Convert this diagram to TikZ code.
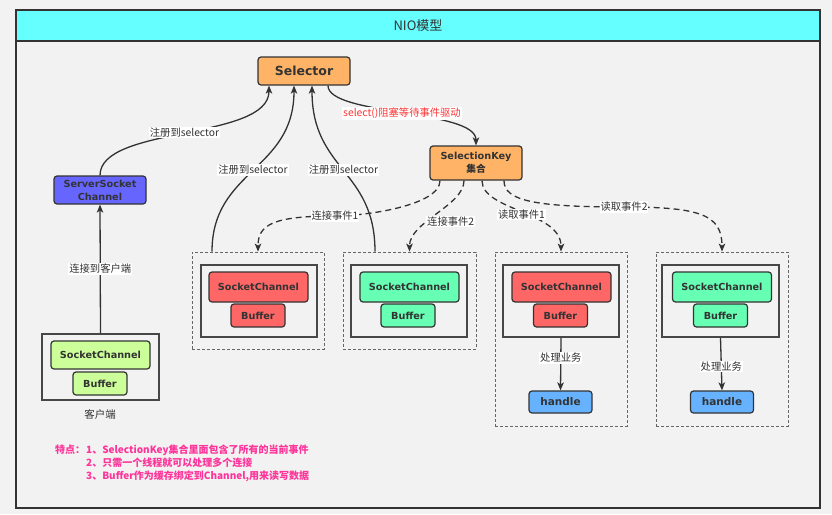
\documentclass[tikz,border=0pt]{standalone}
\usepackage{fontspec}
\setmainfont{Noto Sans CJK SC}
\newfontfamily\lat{DejaVu Sans}
\usetikzlibrary{arrows.meta}
\definecolor{ink}{HTML}{333333}
\definecolor{bg}{HTML}{F2F2F2}
\definecolor{cyanbar}{HTML}{66FFFF}
\definecolor{orangef}{HTML}{FFB366}
\definecolor{bluef}{HTML}{6666FF}
\definecolor{redf}{HTML}{FF6666}
\definecolor{greenf}{HTML}{66FFB3}
\definecolor{lgreenf}{HTML}{CCFF99}
\definecolor{handlef}{HTML}{66B2FF}
\definecolor{redtxt}{HTML}{FF3333}
\definecolor{pinktxt}{HTML}{FF3399}
\definecolor{dashgray}{HTML}{666666}
\tikzset{
  box/.style={draw=ink, line width=1.2pt, rounded corners=3pt, inner sep=0pt, text=ink, align=center},
  bl/.style={font={\lat\bfseries\fontsize{9.7}{12}\selectfont}},
  scbox/.style={box, bl, minimum width=99pt, minimum height=30pt},
  bufbox/.style={box, bl, minimum width=54pt, minimum height=23pt},
  hbox/.style={box, font={\lat\bfseries\fontsize{10.5}{12}\selectfont}, fill=handlef, minimum width=63pt, minimum height=22pt},
  inner/.style={draw=ink!90, line width=1.5pt, fill=bg, inner sep=0pt},
  outer/.style={draw=dashgray, line width=0.8pt, dash pattern=on 3pt off 2pt, inner sep=0pt},
  conn/.style={draw=ink, line width=1.3pt, -{Stealth[length=8pt,width=6.5pt,inset=2pt]}},
  dconn/.style={conn, dash pattern=on 6pt off 4pt},
  lbl/.style={fill=white, inner sep=1pt, text=ink, font=\fontsize{10.3}{12}\selectfont},
}
\begin{document}
\begin{tikzpicture}[x=1pt,y=-1pt]
\useasboundingbox (0,0) rectangle (832,514);
\fill[bg] (0,0) rectangle (832,514);
% frame and title
\draw[ink, line width=1.3pt] (16,10) rectangle (820,508);
\node[draw=ink, line width=1.3pt, fill=cyanbar, minimum width=804pt, minimum height=31pt, inner sep=0pt, text=ink, font=\fontsize{13}{15}\selectfont] (title) at (418,25.5) {NIO模型};

% main nodes
\node[box, fill=orangef, minimum width=92pt, minimum height=28pt, font={\lat\bfseries\fontsize{12.5}{14}\selectfont}] (sel) at (304,71) {Selector};
\node[box, fill=bluef, minimum width=92pt, minimum height=28pt, font={\lat\bfseries\fontsize{9.7}{13}\selectfont}] (ssc) at (100,190) {ServerSocket\\Channel};
\node[box, fill=orangef, minimum width=92pt, minimum height=34pt, font={\bfseries\fontsize{9.7}{12.5}\selectfont}] (sk) at (476,163) {{\lat SelectionKey}\\集合};

% dashed group boxes
\node[outer, minimum width=132pt, minimum height=97pt] (d1) at (258,300.5) {};
\node[outer, minimum width=133pt, minimum height=97pt] (d2) at (409.5,300.5) {};
\node[outer, minimum width=132pt, minimum height=174pt] (d3) at (561,339) {};
\node[outer, minimum width=132pt, minimum height=174pt] (d4) at (722,339) {};

% inner boxes
\node[inner, minimum width=116pt, minimum height=72pt] (i1) at (259,301) {};
\node[inner, minimum width=116pt, minimum height=72pt] (i2) at (409,301) {};
\node[inner, minimum width=116pt, minimum height=72pt] (i3) at (561,301) {};
\node[inner, minimum width=117pt, minimum height=72pt] (i4) at (720.5,301) {};
\node[inner, minimum width=117pt, minimum height=66pt] (ic) at (100.5,367) {};

\node[scbox, fill=redf] (sc1) at (258.5,287) {SocketChannel};
\node[bufbox, fill=redf] (b1) at (258,315.5) {Buffer};
\node[scbox, fill=greenf] (sc2) at (409.5,287) {SocketChannel};
\node[bufbox, fill=greenf] (b2) at (408,315.5) {Buffer};
\node[scbox, fill=redf] (sc3) at (561.5,287) {SocketChannel};
\node[bufbox, fill=redf] (b3) at (560.5,315.5) {Buffer};
\node[scbox, fill=greenf] (sc4) at (722,287) {SocketChannel};
\node[bufbox, fill=greenf] (b4) at (720.5,315.5) {Buffer};
\node[scbox, fill=lgreenf, minimum height=28pt] (scc) at (100.5,355) {SocketChannel};
\node[bufbox, fill=lgreenf] (bc) at (100,383.5) {Buffer};

\node[hbox] (h3) at (560.5,402) {handle};
\node[hbox] (h4) at (722,402) {handle};

\node[text=ink, font=\fontsize{10.5}{12}\selectfont] (client) at (100,414) {客户端};

% solid connectors
\draw[conn] (ic.north) -- (ssc.south) node[lbl, pos=0.5] {连接到客户端};
\draw[conn] (ssc.north) .. controls +(0,-50) and +(0,55) .. ([xshift=-35pt]sel.south) node[lbl, pos=0.5] {注册到selector};
\draw[conn] ([xshift=-46pt]d1.north) .. controls +(0,-82) and +(0,85) .. ([xshift=-10pt]sel.south) node[lbl, pos=0.5] {注册到selector};
\draw[conn] ([xshift=-34.5pt]d2.north) .. controls +(0,-82) and +(0,85) .. ([xshift=8pt]sel.south) node[lbl, pos=0.5] {注册到selector};
\draw[conn] ([xshift=24pt]sel.south) .. controls +(0,30) and +(0,-36) .. (sk.north) node[lbl, pos=0.5, text=redtxt] {select()阻塞等待事件驱动};

% dashed connectors
\draw[dconn] ([xshift=-36pt]sk.south) .. controls +(0,25) and +(30,0) .. (335,216) node[lbl] {连接事件1} .. controls +(-62,0) and +(0,-27) .. (d1.north);
\draw[dconn] ([xshift=-12pt]sk.south) .. controls +(0,25) and +(0,-30) .. (d2.north) node[lbl, pos=0.55, xshift=18pt, yshift=-4pt] {连接事件2};
\draw[dconn] ([xshift=6pt]sk.south) .. controls +(0,30) and +(0,-40) .. (d3.north) node[lbl, pos=0.5, yshift=-2pt] {读取事件1};
\draw[dconn] ([xshift=28pt]sk.south) .. controls +(0,20) and +(-90,0) .. (624,207) node[lbl] {读取事件2} .. controls +(76,0) and +(0,-37) .. (d4.north);

\draw[conn] (i3.south) -- (h3.north) node[lbl, pos=0.38] {处理业务};
\draw[conn] (i4.south) -- (h4.north) node[lbl, pos=0.55] {处理业务};

% notes
\begin{scope}[every node/.style={anchor=west, inner sep=0pt, text=pinktxt, font={\bfseries\fontsize{10}{12}\selectfont}}]
\node (n0) at (55,450) {特点：};
\node (n1) at (86,450) {1、SelectionKey集合里面包含了所有的当前事件};
\node (n2) at (86,463) {2、只需一个线程就可以处理多个连接};
\node (n3) at (86,476) {3、Buffer作为缓存绑定到Channel,用来读写数据};
\end{scope}
\end{tikzpicture}
\end{document}
